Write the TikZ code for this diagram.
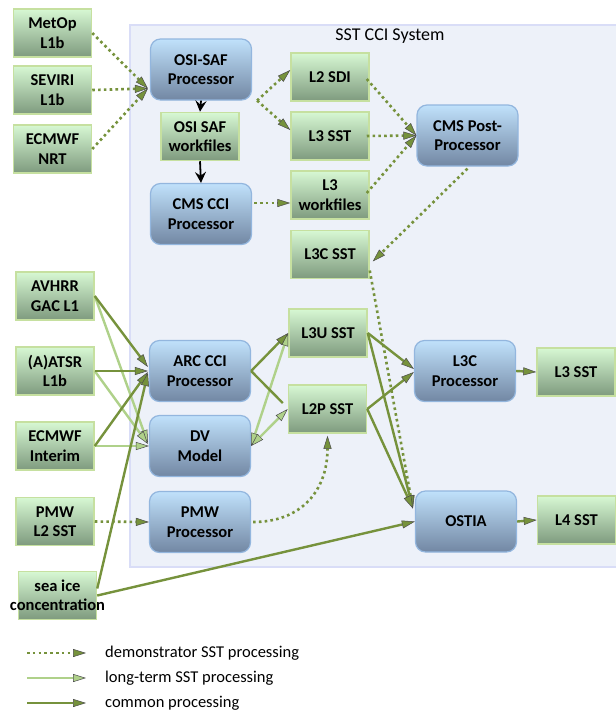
\documentclass[tikz,border=0pt]{standalone}
\usepackage{fontspec}
\setmainfont{Carlito}
\usetikzlibrary{arrows.meta,calc}
\definecolor{dk}{HTML}{76923C}
\definecolor{lt}{HTML}{AFD18A}
\definecolor{bgfill}{HTML}{EDF1F9}
\definecolor{bgline}{HTML}{D9DDF7}
\definecolor{gtop}{HTML}{D7F8D3}
\definecolor{gbot}{HTML}{7E9A7E}
\definecolor{gline}{HTML}{C6E0A0}
\definecolor{btop}{HTML}{C0E1FB}
\definecolor{bbot}{HTML}{7287A3}
\definecolor{bline}{HTML}{93B6DE}
\tikzset{
  dktip/.tip={Triangle[length=13pt,width=8pt,fill=dk,color=black!70,line width=0.5pt]},
  lttip/.tip={Triangle[length=13pt,width=8pt,fill=lt,color=black!70,line width=0.5pt]},
  lab/.style={font=\bfseries\fontsize{16.5}{19.5}\selectfont, align=center, inner sep=0pt},
  databox/.style={lab, draw=gline, line width=1.5pt, top color=gtop, bottom color=gbot,
    minimum width=78pt, minimum height=48pt},
  procbox/.style={lab, draw=bline, line width=1.2pt, rounded corners=10pt, top color=btop,
    bottom color=bbot, minimum width=101pt, minimum height=61pt},
  common/.style={draw=dk, line width=2.4pt, -dktip},
  longt/.style={draw=lt, line width=2.4pt, -lttip},
  demo/.style={draw=dk, line width=2.6pt, dash pattern=on 2.6pt off 3.2pt, -dktip},
  blk/.style={draw=black, line width=1.8pt, -{Stealth[length=11pt,width=11pt,inset=4pt]}},
}
\begin{document}
\begin{tikzpicture}[x=1pt,y=-1pt]
\useasboundingbox (0,0) rectangle (616,713);
\fill[white] (0,0) rectangle (616,713);
\draw[fill=bgfill, draw=bgline, line width=1.2pt] (130,25) rectangle (630,567);
\node (title) at (390,36) {\fontsize{18}{20}\selectfont SST CCI System};

% inputs
\node[databox] (metop) at (52.5,33) {MetOp\\L1b};
\node[databox] (sev) at (52.5,90) {SEVIRI\\L1b};
\node[databox] (ecnrt) at (52.5,149) {ECMWF\\NRT};
\node[databox] (avhrr) at (55,296) {AVHRR\\GAC L1};
\node[databox] (aatsr) at (55,371) {(A)ATSR\\L1b};
\node[databox] (ecint) at (55,446) {ECMWF\\Interim};
\node[databox] (pmwl2) at (55,521.5) {PMW\\L2 SST};
\node[databox] (seaice) at (57.5,595.5) {};
\node[lab] (seaicetxt) at (seaice.center) {sea ice\\concentration};

% processors
\node[procbox] (osi) at (201,69.5) {OSI-SAF\\Processor};
\node[databox] (wf) at (200,136.5) {OSI SAF\\workfiles};
\node[procbox] (cmscci) at (201,214) {CMS CCI\\Processor};
\node[procbox] (arc) at (200,371) {ARC CCI\\Processor};
\node[procbox] (dv) at (200,446) {DV\\Model};
\node[procbox] (pmwproc) at (200,522) {PMW\\Processor};
\node[procbox] (cmspost) at (467.5,135.5) {CMS Post-\\Processor};
\node[procbox] (l3cproc) at (465,371) {L3C\\Processor};
\node[procbox] (ostia) at (466,521.5) {OSTIA};

% data products
\node[databox] (sdi) at (330,77) {L2 SDI};
\node[databox] (l3t) at (330,136) {L3 SST};
\node[databox] (l3wf) at (330,195) {L3\\workfiles};
\node[databox] (l3csst) at (330,254.5) {L3C SST};
\node[databox] (l3u) at (328,333) {L3U SST};
\node[databox] (l2p) at (327.5,409) {L2P SST};
\node[databox] (l3r) at (576,372) {L3 SST};
\node[databox] (l4) at (576.5,520) {L4 SST};

% helper coordinates
\coordinate (osiin) at ($(osi.west)+(-2,19)$);
\coordinate (osiout) at ($(osi.south east)+(5,0)$);
\coordinate (ostiain) at ($(ostia.west)+(-2,-13)$);

% demonstrator
\draw[demo] (metop.east) -- (osiin);
\draw[demo] (sev.east) -- (osiin);
\draw[demo] (ecnrt.east) -- (osiin);
\draw[demo] (osiout) -- ($(sdi.west)+(0,-7)$);
\draw[demo] (osiout) -- ($(l3t.west)+(0,-6)$);
\draw[demo] ($(cmscci.east)+(2,-11)$) -- ($(l3wf.west)+(0,8)$);
\draw[demo] ($(sdi.east)+(-3,2)$) -- (cmspost.west);
\draw[demo] ($(l3t.east)+(-3,0)$) -- (cmspost.west);
\draw[demo] ($(l3wf.east)+(-3,-2)$) -- (cmspost.west);
\draw[demo] ($(cmspost.south)+(0,2)$) -- ($(l3csst.east)+(3,7)$);
\draw[demo] ($(l3csst.east)+(0,16)$) -- (ostiain);
\draw[demo] (pmwl2.east) -- (pmwproc.west);
\draw[demo] ($(pmwproc.east)+(2,0)$) .. controls +(48,0) and +(0,55) .. ($(l2p.south)+(0,2)$);

% black
\draw[blk] (osi.south) -- (wf.north);
\draw[blk] (wf.south) -- (cmscci.north);

% long-term
\draw[longt] (avhrr.east) -- ($(dv.west)+(-1,-3)$);
\draw[longt] (aatsr.east) -- ($(dv.west)+(-1,-2)$);
\draw[longt] (ecint.east) -- (dv.west);
\draw[draw=lt, line width=2.4pt, lttip-lttip] (dv.east) -- (l3u.west);
\draw[draw=lt, line width=2.4pt, lttip-lttip] (dv.east) -- (l2p.west);

% common
\draw[common] (avhrr.east) -- ($(arc.west)+(-1,-4)$);
\draw[common] (aatsr.east) -- ($(arc.west)+(-1,0)$);
\draw[common] (ecint.east) -- ($(arc.west)+(-1,1)$);
\draw[common] ($(seaice.east)+(0,-7)$) -- ($(arc.west)+(-1,2)$);
\draw[common] (seaice.east) -- (ostia.west);
\draw[common] (arc.east) -- (l3u.west);
\draw[draw=dk, line width=2.4pt] (arc.east) -- ($(l2p.west)+(-5,-6)$);
\draw[common] (l3u.east) -- ($(l3cproc.west)+(0,-2)$);
\draw[common] (l3u.east) -- (ostiain);
\draw[common] (l2p.east) -- ($(l3cproc.west)+(0,1)$);
\draw[common] (l2p.east) -- (ostiain);
\draw[common] (l3cproc.east) -- (l3r.west);
\draw[common] (ostia.east) -- (l4.west);

% legend
\coordinate (la1) at (27,653);
\coordinate (la2) at (86,653);
\coordinate (lb1) at (27,678);
\coordinate (lb2) at (86,678);
\coordinate (lc1) at (27,703);
\coordinate (lc2) at (86,703);
\draw[demo] (la1) -- (la2);
\draw[longt] (lb1) -- (lb2);
\draw[common] (lc1) -- (lc2);
\node[anchor=west, font=\fontsize{16.5}{18}\selectfont, inner sep=0pt] (lga) at (105,653) {demonstrator SST processing};
\node[anchor=west, font=\fontsize{16.5}{18}\selectfont, inner sep=0pt] (lgb) at (105,678) {long-term SST processing};
\node[anchor=west, font=\fontsize{16.5}{18}\selectfont, inner sep=0pt] (lgc) at (105,703) {common processing};
\end{tikzpicture}
\end{document}
